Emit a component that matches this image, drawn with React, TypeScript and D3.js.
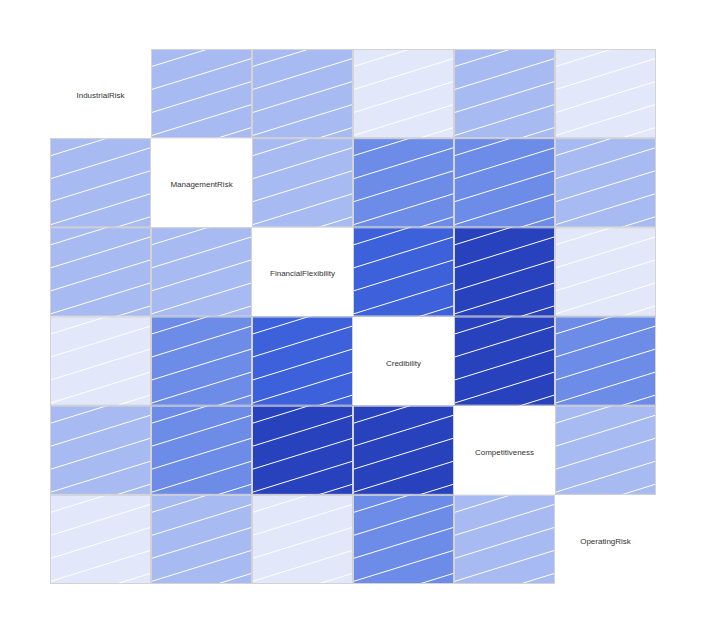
import React, { useEffect, useRef } from 'react'
import * as d3 from 'd3'

const vars = ['IndustrialRisk', 'ManagementRisk', 'FinancialFlexibility', 'Credibility', 'Competitiveness', 'OperatingRisk']

// correlation matrix (read from shade bins)
const corr = [
  [1.00, 0.22, 0.22, 0.08, 0.22, 0.08],
  [0.22, 1.00, 0.22, 0.36, 0.36, 0.22],
  [0.22, 0.22, 1.00, 0.50, 0.64, 0.08],
  [0.08, 0.36, 0.50, 1.00, 0.64, 0.36],
  [0.22, 0.36, 0.64, 0.64, 1.00, 0.22],
  [0.08, 0.22, 0.08, 0.36, 0.22, 1.00],
]

const rampColors = ['red', 'salmon', 'white', 'royalblue', 'navy']

export default function App() {
  const ref = useRef<HTMLDivElement>(null)

  useEffect(() => {
    const el = ref.current
    if (!el) return
    el.innerHTML = ''
    const w = 707, h = 635
    const svg = d3.select(el).append('svg').attr('width', w).attr('height', h)
      .style('position', 'absolute').style('left', 0).style('top', 0)

    const x = d3.scaleBand().domain(vars).range([50, 656])
    const y = d3.scaleBand().domain(vars).range([49, 584])

    const ramp = d3.scaleLinear<string>()
      .domain(d3.range(rampColors.length).map(i => i / (rampColors.length - 1)))
      .range(rampColors).interpolate(d3.interpolateRgb)
    const pal = d3.range(14).map(i => ramp(i / 13))
    const shade = d3.scaleQuantize<string>().domain([-1, 1]).range(pal)

    const cells = vars.flatMap((r, i) => vars.map((c, j) => ({ r, c, i, j, v: corr[i][j] })))
    const defs = svg.append('defs')
    const bw = x.bandwidth(), bh = y.bandwidth()
    const slope = 0.31, gap = 23, phase = 17.7

    cells.forEach(d => {
      const x0 = x(d.c)!, y0 = y(d.r)!
      if (d.i === d.j) {
        svg.append('text').attr('x', x0 + bw / 2).attr('y', y0 + bh / 2 + 2)
          .attr('text-anchor', 'middle').attr('dominant-baseline', 'central')
          .attr('font-family', 'Liberation Sans, Arial, sans-serif').attr('font-size', 8)
          .attr('fill', '#333').text(d.r)
        return
      }
      const id = `clip-${d.i}-${d.j}`
      defs.append('clipPath').attr('id', id).append('rect')
        .attr('x', x0).attr('y', y0).attr('width', bw).attr('height', bh)
      const g = svg.append('g')
      g.append('rect').attr('x', x0).attr('y', y0).attr('width', bw).attr('height', bh)
        .attr('fill', shade(d.v))
      const lg = g.append('g').attr('clip-path', `url(#${id})`)
      const sgn = d.v > 0 ? 1 : -1
      for (let k = -2; k < 10; k++) {
        const off = phase + gap * k
        lg.append('line')
          .attr('x1', x0).attr('y1', y0 + off)
          .attr('x2', x0 + bw).attr('y2', y0 + off - sgn * slope * bw)
          .attr('stroke', 'white').attr('stroke-width', 1)
      }
      g.append('rect').attr('x', x0 + 0.5).attr('y', y0 + 0.5).attr('width', bw - 1).attr('height', bh - 1)
        .attr('fill', 'none').attr('stroke', '#d3d3d3').attr('stroke-width', 1)
    })
  }, [])

  return <div ref={ref} />
}
